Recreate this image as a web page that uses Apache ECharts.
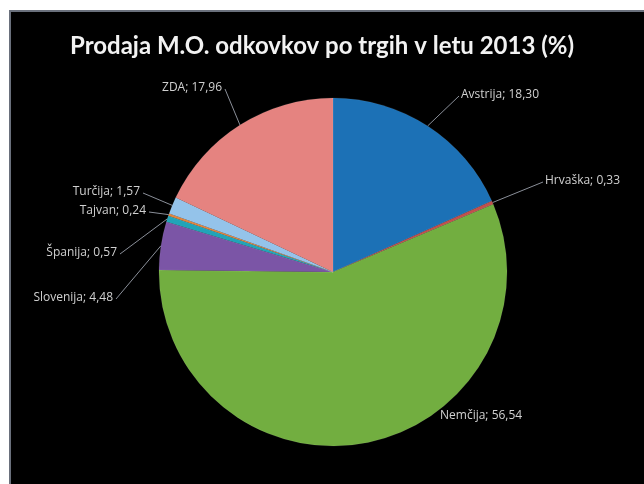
<!DOCTYPE html>
<html>
<head>
<meta charset="utf-8">
<script src="https://cdn.jsdelivr.net/npm/echarts@6/dist/echarts.min.js"></script>
<style>
html,body{margin:0;padding:0;background:#fff;}
#main{width:644px;height:484px;}
</style>
</head>
<body>
<div id="main"></div>
<script>
const titleText = 'Prodaja M.O. odkovkov po trgih v letu 2013 (%)';
const categories = ['Avstrija', 'Hrvaška', 'Nemčija', 'Slovenija', 'Španija', 'Tajvan', 'Turčija', 'ZDA'];
const values = [18.30, 0.33, 56.54, 4.48, 0.57, 0.24, 1.57, 17.96];
const colors = ['#1c71b6', '#c0504d', '#72ae40', '#7b55a6', '#21a4b8', '#e0853f', '#94c3ea', '#e58380'];
// label anchor placement (layout only): [x, y, align, showLine]
const labelAnchors = [
  [461, 95, 'left', true],
  [545, 181, 'left', true],
  [440, 416, 'left', false],
  [113, 298, 'right', true],
  [117, 253, 'right', true],
  [146, 211, 'right', true],
  [140, 192, 'right', true],
  [222, 88, 'right', true]
];

const chart = echarts.init(document.getElementById('main'));
const data = categories.map((c, i) => ({
  name: c, value: values[i],
  itemStyle: { color: colors[i] },
  labelLine: { show: labelAnchors[i][3] }
}));

chart.setOption({
  backgroundColor: '#ffffff',
  animation: false,
  graphic: [{
    type: 'rect',
    z: -10,
    shape: { x: 10, y: 11, width: 640, height: 480 },
    style: { fill: '#000000', stroke: '#6a707c', lineWidth: 2 }
  }],
  title: {
    text: titleText,
    left: 'center',
    top: 29,
    textStyle: { color: '#f2f2f2', fontFamily: 'Lato', fontWeight: 'bold', fontSize: 24 }
  },
  series: [{
    type: 'pie',
    center: [333, 272],
    radius: [0, 174],
    startAngle: 90,
    clockwise: true,
    data: data,
    itemStyle: { borderColor: 'rgba(255,255,255,0.15)', borderWidth: 0.5 },
    label: {
      show: true,
      color: '#d0d0d0',
      fontFamily: 'Open Sans',
      fontSize: 12,
      formatter: p => p.name + '; ' + p.value.toFixed(2).replace('.', ',')
    },
    labelLine: {
      show: true,
      length: 25,
      length2: 6,
      lineStyle: { color: '#8a8f99', width: 1 }
    },
    labelLayout: function (params) {
      const a = labelAnchors[params.dataIndex];
      const edge = params.labelLinePoints ? params.labelLinePoints[0] : null;
      const endX = a[2] === 'left' ? a[0] - 2 : a[0] + 3;
      const res = { x: a[0], y: a[1], align: a[2], verticalAlign: 'middle' };
      if (edge && a[3]) {
        res.labelLinePoints = [[edge[0], edge[1]], [endX, a[1] + 1], [endX, a[1] + 1]];
      }
      return res;
    }
  }]
});
</script>
</body>
</html>
